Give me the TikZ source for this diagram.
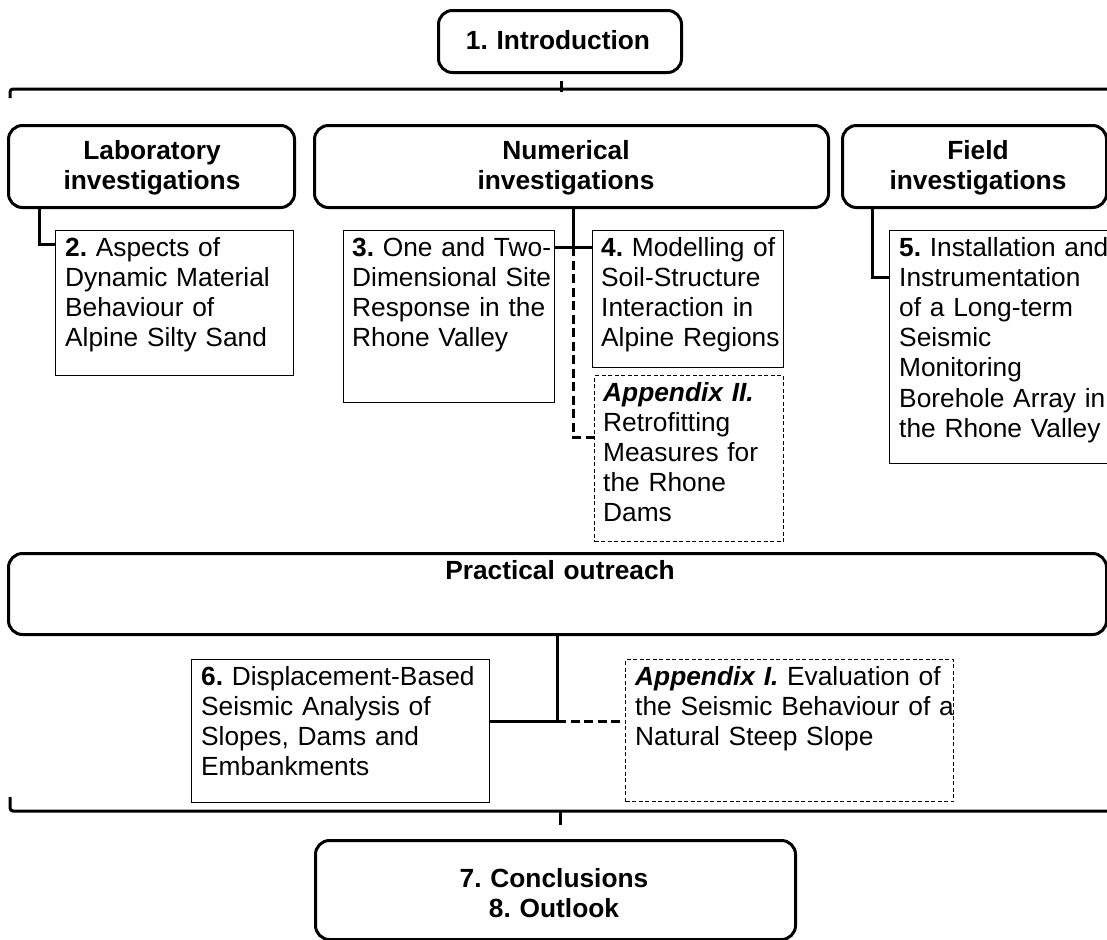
\documentclass[tikz,border=0pt]{standalone}
\usepackage{fontspec}
\setmainfont{Liberation Sans}
\usetikzlibrary{calc}
\frenchspacing
\newcommand\bodyfnt{\fontsize{26.3bp}{30.2bp}\selectfont}
\newcommand\hdrfnt{\fontsize{26.3bp}{30.5bp}\selectfont\bfseries}
\tikzset{
  hdr/.style={draw, line width=3bp, rounded corners=14bp, inner sep=0pt, anchor=north west},
  tbox/.style={draw, line width=1.2bp, inner sep=0pt, anchor=north west},
  dbox/.style={draw, line width=1.2bp, dash pattern=on 4bp off 2.5bp, inner sep=0pt, anchor=north west},
  txt/.style={inner sep=0pt, anchor=base west, text width=340bp, align=left, font=\bodyfnt},
  htxt/.style={inner sep=0pt, anchor=base, text width=500bp, align=center, font=\hdrfnt},
  conn/.style={line width=3bp},
  dconn/.style={line width=3bp, dash pattern=on 9bp off 4.5bp},
}
\begin{document}
\begin{tikzpicture}[x=1bp,y=-1bp]
\useasboundingbox (0,0) rectangle (1107,940);
\clip (0,0) rectangle (1107,940);

% header boxes
\node[hdr, minimum width=243bp, minimum height=62bp] (intro) at (437,9) {};
\node[hdr, minimum width=286bp, minimum height=82bp] (lab) at (7,124) {};
\node[hdr, minimum width=514bp, minimum height=82bp] (num) at (313,124) {};
\node[hdr, minimum width=264bp, minimum height=82bp] (field) at (841,124) {};
\node[hdr, minimum width=1098bp, minimum height=81bp] (prac) at (7,552) {};
\node[hdr, minimum width=480bp, minimum height=99bp] (concl) at (314,839) {};

\node[htxt] (introt) at (558,49) {1. Introduction};
\node[htxt] (labt) at (152,159) {Laboratory\\investigations};
\node[htxt] (numt) at (566,159) {Numerical\\investigations};
\node[htxt] (fieldt) at (978,159) {Field\\investigations};
\node[htxt] (pract) at (560,579) {Practical outreach};
\node[htxt] (conclt) at (554,887) {7. Conclusions\\8. Outlook};

% chapter boxes
\node[tbox, minimum width=238bp, minimum height=145bp] (b2) at (55,230) {};
\node[tbox, minimum width=211bp, minimum height=172bp] (b3) at (343,230) {};
\node[tbox, minimum width=191bp, minimum height=137bp] (b4) at (592,230) {};
\node[dbox, minimum width=189bp, minimum height=166bp] (a2) at (594,375) {};
\node[tbox, minimum width=223bp, minimum height=233bp] (b5) at (889,230) {};
\node[tbox, minimum width=298bp, minimum height=143bp] (b6) at (191,659) {};
\node[dbox, minimum width=328bp, minimum height=142bp] (a1) at (625,659) {};

\node[txt] (b2t) at (65,256) {\textbf{2.} Aspects of\\Dynamic Material\\Behaviour of\\Alpine Silty Sand};
\node[txt] (b3t) at (352,256) {\textbf{3.} One and Two-\\Dimensional Site\\Response in the\\Rhone Valley};
\node[txt] (b4t) at (601,256) {\textbf{4.} Modelling of\\Soil-Structure\\Interaction in\\Alpine Regions};
\node[txt] (a2t) at (603,401) {\textbf{\textit{Appendix II.}}\\Retrofitting\\Measures for\\the Rhone\\Dams};
\node[txt] (b5t) at (899,256) {\textbf{5.} Installation and\\Instrumentation\\of a Long-term\\Seismic\\Monitoring\\Borehole Array in\\the Rhone Valley};
\node[txt] (b6t) at (201,685) {\textbf{6.} Displacement-Based\\Seismic Analysis of\\Slopes, Dams and\\Embankments};
\node[txt] (a1t) at (635,685) {\textbf{\textit{Appendix I.}} Evaluation of\\the Seismic Behaviour of a\\Natural Steep Slope};

% brackets
\coordinate (tbl) at (10,98);
\coordinate (tbr) at (1115,89);
\draw[conn, rounded corners=3bp] (tbl) |- (tbr);
\draw[conn] ($(intro.south)+(1.5,7)$) -- ($(intro.south)+(1.5,18)$);

\coordinate (bbl) at (10,797);
\coordinate (bbr) at (1115,811);
\draw[conn, rounded corners=3bp] (bbl) |- (bbr);
\draw[conn] ($(concl.north)+(5,-28)$) -- ($(concl.north)+(5,-14)$);

% connectors
\draw[conn] ($(lab.south west)+(32,0)$) |- ($(b2.north west)+(0,14)$);

\coordinate (nj) at (573,247);
\draw[conn] (num.south -| nj) -- (nj);
\draw[conn] (b3.east |- nj) -- (b4.west |- nj);
\draw[dconn] (nj) |- ($(a2.north west)+(0,62)$);

\draw[conn] ($(field.south west)+(31,0)$) |- ($(b5.north west)+(0,47)$);

\coordinate (pj) at (557,721);
\draw[conn] (prac.south -| pj) -- (pj);
\draw[conn] (b6.east |- pj) -- (pj);
\draw[dconn] (pj) -- (a1.west |- pj);
\end{tikzpicture}
\end{document}
